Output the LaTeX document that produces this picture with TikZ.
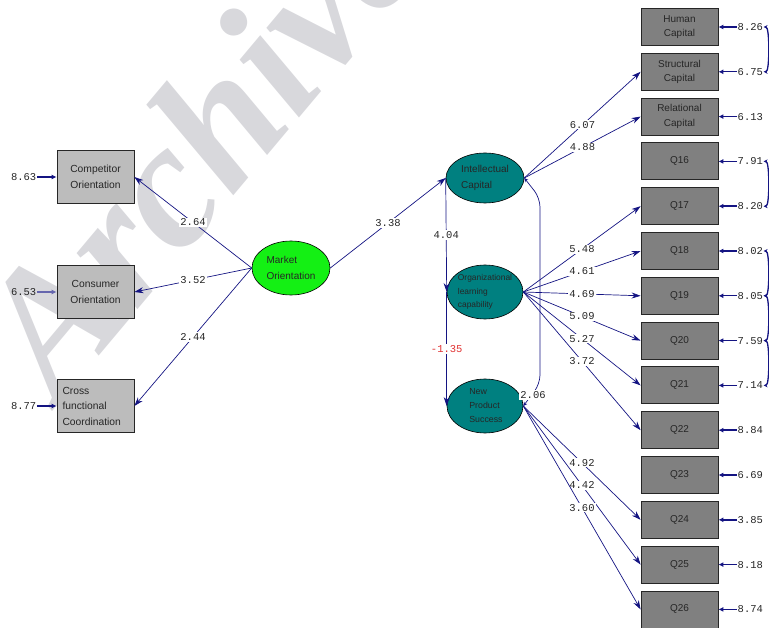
\documentclass[tikz,border=0pt]{standalone}
\usepackage{fontspec}
\setmainfont{Liberation Sans}
\newfontfamily\monof{Liberation Mono}
\newfontfamily\wmfont{Liberation Serif}
\usetikzlibrary{arrows.meta,shapes.geometric}
\definecolor{navy}{RGB}{20,20,130}
\definecolor{tealc}{RGB}{0,128,128}
\definecolor{greenc}{RGB}{20,240,20}
\definecolor{lgray}{RGB}{188,188,188}
\definecolor{dgray}{RGB}{128,128,128}
\definecolor{redc}{RGB}{225,50,50}
\definecolor{wm}{RGB}{216,216,220}
\begin{document}
\begin{tikzpicture}[x=1pt,y=-1pt,
  lbox/.style={draw=black!85, line width=0.8pt, fill=lgray, minimum width=77pt, minimum height=53pt, inner sep=0pt, font=\fontsize{10.3}{15.5}\selectfont, text=black!85, align=center},
  rbox/.style={draw=black!85, line width=0.8pt, fill=dgray, minimum width=77pt, minimum height=37pt, inner sep=0pt, font=\fontsize{10}{14.5}\selectfont, text=black!85, align=center},
  lat/.style={draw=black, line width=0.6pt, ellipse, inner sep=0pt},
  lattxt/.style={font=\fontsize{9.8}{15}\selectfont, align=left, inner sep=0pt, text=black!85},
  pathar/.style={draw=navy, line width=0.7pt, -{Stealth[length=9pt,width=6pt]}},
  errar/.style={draw=navy, line width=1.4pt, -{Latex[length=5pt,width=5pt]}},
  coef/.style={font=\monof\fontsize{10.5}{10.5}\selectfont, fill=white, inner sep=1pt, text=black!85},
  errlab/.style={font=\monof\fontsize{10.5}{10.5}\selectfont, inner sep=0.5pt, text=black!85},
  corr/.style={draw=navy, line width=1.3pt, {Stealth[length=4pt,width=4pt]}-{Stealth[length=4pt,width=4pt]}}
]
\useasboundingbox (0,0) rectangle (769,628);
% watermark
\node[font=\wmfont\bfseries\itshape\fontsize{180}{180}\selectfont, text=wm, rotate=50, anchor=base west, inner sep=0pt] (wmark) at (58,405) {Archive};

% left indicators
\node[lbox] (co) at (95.5,177) {Competitor\\Orientation};
\node[lbox] (cu) at (95.5,292) {Consumer\\Orientation};
\node[lbox, align=left, text width=66pt] (cf) at (95.5,406) {Cross\\functional\\Coordination};
\node[errlab, anchor=east] (eco) at (37,177) {8.63};
\node[errlab, anchor=east] (ecu) at (37,292) {6.53};
\node[errlab, anchor=east] (ecf) at (37,406) {8.77};
\draw[errar] (eco.east) -- (co.west);
\draw[errar, draw=navy!65] (ecu.east) -- (cu.west);
\draw[errar] (ecf.east) -- (cf.west);

% latent variables
\node[lat, fill=greenc, minimum width=78pt, minimum height=54pt] (MO) at (291,268) {};
\node[lattxt, font=\fontsize{10}{16.5}\selectfont] (MOt) at (MO) {Market\\Orientation};
\node[lat, fill=tealc, minimum width=78pt, minimum height=50pt] (IC) at (485,178) {};
\node[lattxt, font=\fontsize{10}{16.5}\selectfont] (ICt) at (IC) {Intellectual\\Capital};
\node[lat, fill=tealc, minimum width=76pt, minimum height=54pt] (OLC) at (485,292) {};
\node[lattxt, font=\fontsize{8.4}{13.3}\selectfont] (OLCt) at (OLC) {Organizational\\learning\\capability};
\node[lat, fill=tealc, minimum width=76pt, minimum height=54pt] (NPS) at (485,406) {};
\node[lattxt, font=\fontsize{8.8}{14}\selectfont] (NPSt) at (486,406) {New\\Product\\Success};

% right indicators
\foreach \i/\t/\e in {0/{Human\\Capital}/8.26, 1/{Structural\\Capital}/6.75, 2/{Relational\\Capital}/6.13,
  3/Q16/7.91, 4/Q17/8.20, 5/Q18/8.02, 6/Q19/8.05, 7/Q20/7.59, 8/Q21/7.14, 9/Q22/8.84,
  10/Q23/6.69, 11/Q24/3.85, 12/Q25/8.18, 13/Q26/8.74}{
  \node[rbox] (r\i) at (679.5,{27+44.8*\i}) {\t};
  \node[errlab, anchor=west] (e\i) at (737,{27+44.8*\i}) {\e};
  \draw[errar] (e\i.west) -- (r\i.east);
}
\draw[corr] (e0.east) to[out=0,in=0,looseness=0.35] (e1.east);
\draw[corr] (e3.east) to[out=0,in=0,looseness=0.35] (e4.east);
\draw[corr] (e5.east) to[out=0,in=0,looseness=0.35] (e6.east);
\draw[corr] (e6.east) to[out=0,in=0,looseness=0.35] (e7.east);
\draw[corr] (e7.east) to[out=0,in=0,looseness=0.35] (e8.east);

% structural paths
\draw[pathar] (MO.west) -- node[coef]{2.64} (co.east);
\draw[pathar] (MO.west) -- node[coef]{3.52} (cu.east);
\draw[pathar] (MO.west) -- node[coef]{2.44} (cf.east);
\draw[pathar] (MO.east) -- node[coef]{3.38} (IC.west);
\draw[pathar] (IC.west) -- node[coef]{4.04} (OLC.west);
\draw[pathar] (OLC.west) -- node[coef, text=redc]{-1.35} (NPS.west);

% IC - NPS covariance
\coordinate (c1) at (540,198);
\coordinate (c2) at (540,384);
\draw[draw=navy, line width=0.7pt, rounded corners=9pt, {Stealth[length=4pt,width=4pt]}-{Stealth[length=4pt,width=4pt]}] (IC.east) -- (c1) -- (c2) -- (NPS.east);
\node[coef] (cv) at (533,395) {2.06};

% loadings
\draw[pathar] (IC.east) -- node[coef]{6.07} (r1.west);
\draw[pathar] (IC.east) -- node[coef]{4.88} (r2.west);
\draw[pathar] (OLC.east) -- node[coef]{5.48} (r4.west);
\draw[pathar] (OLC.east) -- node[coef]{4.61} (r5.west);
\draw[pathar] (OLC.east) -- node[coef]{4.69} (r6.west);
\draw[pathar] (OLC.east) -- node[coef]{5.09} (r7.west);
\draw[pathar] (OLC.east) -- node[coef]{5.27} (r8.west);
\draw[pathar] (OLC.east) -- node[coef]{3.72} (r9.west);
\draw[pathar] (NPS.east) -- node[coef]{4.92} (r11.west);
\draw[pathar] (NPS.east) -- node[coef]{4.42} (r12.west);
\draw[pathar] (NPS.east) -- node[coef]{3.60} (r13.west);
\end{tikzpicture}
\end{document}
